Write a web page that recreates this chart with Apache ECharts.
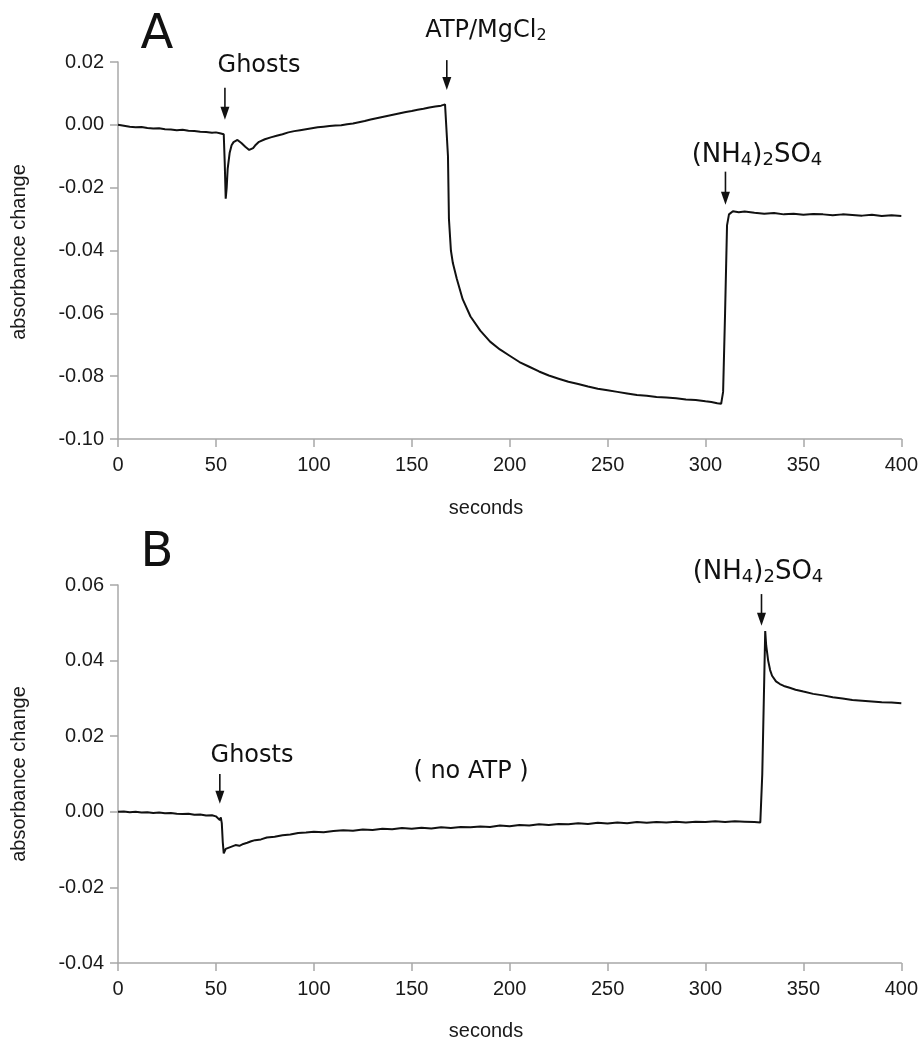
<!DOCTYPE html>
<html>
<head>
<meta charset="utf-8">
<script src="https://cdn.jsdelivr.net/npm/echarts@6/dist/echarts.min.js"></script>
<style>
html,body{margin:0;padding:0;background:#fff;}
#chart{width:921px;height:1038px;}
</style>
</head>
<body>
<div id="chart"></div>
<script>
// ---------- Data ----------
const xTickValues = [0, 50, 100, 150, 200, 250, 300, 350, 400];
const yTickValuesA = [-0.10, -0.08, -0.06, -0.04, -0.02, 0.00, 0.02];
const yTickValuesB = [-0.04, -0.02, 0.00, 0.02, 0.04, 0.06];

const timeA = [0,3,6,9,12,15,18,21,24,27,30,33,36,39,42,45,48,50,52,53,54,54.5,55,55.5,56,57,58,59,60,61,62,63,64,65,66,67,68,69,70,72,75,78,81,84,87,90,93,96,99,102,105,108,111,114,117,120,123,126,129,132,135,138,141,144,147,150,153,156,159,162,165,167,168,168.5,169,170,171,173,176,180,185,190,195,200,205,210,215,220,225,230,235,240,245,250,255,260,265,270,275,280,285,290,295,300,303,306,308,309,310,311,312,314,317,320,325,330,335,340,345,350,355,360,365,370,375,380,385,390,395,400];
const absA = [0.0000,-0.0003,-0.0006,-0.0008,-0.0007,-0.0010,-0.0012,-0.0011,-0.0014,-0.0015,-0.0017,-0.0016,-0.0019,-0.0020,-0.0022,-0.0023,-0.0025,-0.0024,-0.0027,-0.0025,-0.0030,-0.0120,-0.0235,-0.0200,-0.0140,-0.0090,-0.0065,-0.0055,-0.0050,-0.0048,-0.0052,-0.0058,-0.0064,-0.0070,-0.0076,-0.0080,-0.0079,-0.0074,-0.0066,-0.0054,-0.0046,-0.0040,-0.0035,-0.0030,-0.0024,-0.0020,-0.0017,-0.0014,-0.0011,-0.0008,-0.0006,-0.0004,-0.0002,-0.0001,0.0002,0.0004,0.0008,0.0012,0.0017,0.0021,0.0025,0.0029,0.0033,0.0037,0.0041,0.0044,0.0048,0.0051,0.0055,0.0058,0.0061,0.0065,0.0064,-0.0100,-0.0300,-0.0400,-0.0440,-0.0490,-0.0555,-0.0610,-0.0655,-0.0690,-0.0715,-0.0735,-0.0755,-0.0770,-0.0785,-0.0798,-0.0808,-0.0818,-0.0825,-0.0833,-0.0840,-0.0845,-0.0850,-0.0855,-0.0860,-0.0862,-0.0866,-0.0868,-0.0870,-0.0874,-0.0876,-0.0880,-0.0882,-0.0886,-0.0888,-0.0850,-0.0600,-0.0320,-0.0285,-0.0275,-0.0278,-0.0276,-0.0280,-0.0283,-0.0281,-0.0285,-0.0283,-0.0286,-0.0284,-0.0285,-0.0288,-0.0285,-0.0287,-0.0289,-0.0286,-0.0290,-0.0288,-0.0290];

const timeB = [0,3,6,9,12,15,18,21,24,27,30,33,36,39,42,45,48,50,51,52,52.5,53,53.5,54,55,56,58,60,62,64,66,68,70,73,76,80,84,88,92,96,100,105,110,115,120,125,130,135,140,145,150,155,160,165,170,175,180,185,190,195,200,205,210,215,220,225,230,235,240,245,250,255,260,265,270,275,280,285,290,295,300,305,310,315,320,325,328,329,330,330.5,331,332,333,334,336,338,340,343,346,350,355,360,365,370,375,380,385,390,395,400];
const absB = [0.0000,0.0001,-0.0001,0.0000,-0.0002,-0.0001,-0.0003,-0.0002,-0.0004,-0.0003,-0.0005,-0.0006,-0.0005,-0.0008,-0.0007,-0.0010,-0.0009,-0.0012,-0.0010,-0.0022,-0.0015,-0.0030,-0.0080,-0.0110,-0.0098,-0.0095,-0.0092,-0.0088,-0.0090,-0.0085,-0.0082,-0.0078,-0.0075,-0.0073,-0.0068,-0.0066,-0.0062,-0.0060,-0.0056,-0.0055,-0.0053,-0.0054,-0.0051,-0.0049,-0.0050,-0.0047,-0.0048,-0.0045,-0.0046,-0.0043,-0.0045,-0.0042,-0.0044,-0.0041,-0.0043,-0.0040,-0.0041,-0.0039,-0.0040,-0.0036,-0.0038,-0.0035,-0.0036,-0.0033,-0.0035,-0.0032,-0.0033,-0.0030,-0.0032,-0.0029,-0.0031,-0.0028,-0.0030,-0.0027,-0.0029,-0.0027,-0.0028,-0.0026,-0.0028,-0.0026,-0.0027,-0.0025,-0.0027,-0.0025,-0.0026,-0.0027,-0.0028,0.0100,0.0350,0.0478,0.0440,0.0400,0.0375,0.0360,0.0345,0.0338,0.0333,0.0328,0.0323,0.0318,0.0312,0.0308,0.0303,0.0300,0.0296,0.0294,0.0292,0.0290,0.0289,0.0287];

// Arrows in data coordinates: [time, fromValue, toValue]
const arrowsA = [[54.6, 0.0118, 0.0016], [167.9, 0.0206, 0.0111], [310.2, -0.0149, -0.0254]];
const arrowsB = [[52.0, 0.0100, 0.0021], [328.6, 0.0576, 0.0492]];

// ---------- Build ----------
const zip = (t, v) => t.map((x, i) => [x, v[i]]);
const gray = '#a8a8a8';
const tickFont = {fontSize: 20, color: '#1a1a1a', fontFamily: 'Liberation Sans, Arial, sans-serif'};

function xAxisFor(gridIndex) {
  return {
    type: 'value', gridIndex, min: 0, max: 400, interval: 50,
    axisLine: {onZero: false, lineStyle: {color: gray, width: 1.5}},
    axisTick: {length: 8, lineStyle: {color: gray, width: 1.5}},
    axisLabel: Object.assign({margin: 16, formatter: v => String(v)}, tickFont),
    splitLine: {show: false}
  };
}
function yAxisFor(gridIndex, min, max) {
  return {
    type: 'value', gridIndex, min, max, interval: 0.02,
    axisLine: {show: true, lineStyle: {color: gray, width: 1.5}},
    axisTick: {show: true, length: 8, lineStyle: {color: gray, width: 1.5}},
    axisLabel: Object.assign({margin: 14, formatter: v => v.toFixed(2)}, tickFont),
    splitLine: {show: false}
  };
}

const annFont = 'DejaVu Sans, Verdana, sans-serif';
const subRich = (main, sub, off) => ({
  m: {fontSize: main, fontFamily: annFont, fill: '#111', color: '#111'},
  s: {fontSize: sub, fontFamily: annFont, fill: '#111', color: '#111', padding: [off, 0, 0, 0]}
});
function txt(x, y, text, size) {
  return {
    type: 'text', x, y, silent: true,
    style: {text, fontSize: size, fontFamily: annFont, fill: '#111', align: 'center', verticalAlign: 'middle'}
  };
}
function richTxt(x, y, text, main, sub, off) {
  return {
    type: 'text', x, y, silent: true,
    style: {text, fontSize: main, fontFamily: annFont, fill: '#111', align: 'center', verticalAlign: 'middle', rich: subRich(main, sub, off)}
  };
}
const axisTitleFont = 'Liberation Sans, Arial, sans-serif';
function axisTitle(x, y, text, rot) {
  return {
    type: 'text', x, y, rotation: rot || 0, silent: true,
    style: {text, fontSize: 20, fontFamily: axisTitleFont, fill: '#1a1a1a', align: 'center', verticalAlign: 'middle'}
  };
}

const chart = echarts.init(document.getElementById('chart'), null, {renderer: 'canvas'});
const baseGraphic = [
  txt(157, 36, 'A', 48),
  txt(259, 66, 'Ghosts', 24),
  richTxt(486, 31, '{m|ATP/MgCl}{s|2}', 24, 16, 10),
  richTxt(757, 155, '{m|(NH}{s|4}{m|)}{s|2}{m|SO}{s|4}', 26, 18, 10),
  axisTitle(486, 508, 'seconds'),
  axisTitle(19, 252, 'absorbance change', Math.PI / 2),

  txt(157, 554, 'B', 48),
  txt(252, 756, 'Ghosts', 24),
  txt(471, 772, '( no ATP )', 24),
  richTxt(758, 572, '{m|(NH}{s|4}{m|)}{s|2}{m|SO}{s|4}', 26, 18, 10),
  axisTitle(486, 1031, 'seconds'),
  axisTitle(19, 774, 'absorbance change', Math.PI / 2)
];
chart.setOption({
  animation: false,
  backgroundColor: '#fff',
  grid: [
    {left: 118, top: 62, width: 784, height: 377},
    {left: 118, top: 585, width: 784, height: 378}
  ],
  xAxis: [xAxisFor(0), xAxisFor(1)],
  yAxis: [yAxisFor(0, -0.10, 0.02), yAxisFor(1, -0.04, 0.06)],
  series: [
    {type: 'line', xAxisIndex: 0, yAxisIndex: 0, data: zip(timeA, absA), showSymbol: false, symbol: 'none',
     lineStyle: {color: '#111', width: 2}},
    {type: 'line', xAxisIndex: 1, yAxisIndex: 1, data: zip(timeB, absB), showSymbol: false, symbol: 'none',
     lineStyle: {color: '#111', width: 2}}
  ],
  graphic: baseGraphic
});

// Arrows: positioned through the axes' own scales
function arrowGraphics(list, gridIndex) {
  const out = [];
  list.forEach(a => {
    const p1 = chart.convertToPixel({gridIndex}, [a[0], a[1]]);
    const p2 = chart.convertToPixel({gridIndex}, [a[0], a[2]]);
    const headLen = 13, headHalf = 4.5;
    out.push({type: 'line', silent: true, shape: {x1: p1[0], y1: p1[1], x2: p2[0], y2: p2[1] - headLen + 2},
      style: {stroke: '#111', lineWidth: 1.6}});
    out.push({type: 'polygon', silent: true,
      shape: {points: [[p2[0] - headHalf, p2[1] - headLen], [p2[0] + headHalf, p2[1] - headLen], [p2[0], p2[1]]]},
      style: {fill: '#111'}});
  });
  return out;
}
chart.setOption({graphic: baseGraphic.concat(arrowGraphics(arrowsA, 0), arrowGraphics(arrowsB, 1))}, {replaceMerge: ['graphic']});
</script>
</body>
</html>
